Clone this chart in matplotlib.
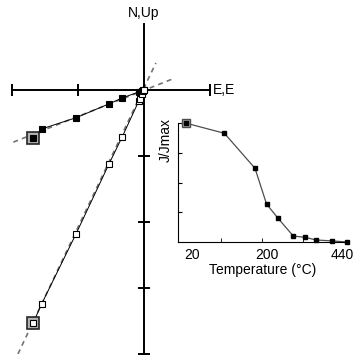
import matplotlib
matplotlib.use("Agg")
import matplotlib.pyplot as plt

plt.rcParams['font.family'] = ['Liberation Sans', 'DejaVu Sans']

# Zijderveld data: horizontal projection (E, N) - filled squares
east = [-1.68, -1.55, -1.03, -0.53, -0.33, -0.08, -0.06, -0.03, -0.01, 0.0]
north = [-0.73, -0.59, -0.42, -0.21, -0.12, -0.03, -0.025, -0.01, -0.005, 0.0]
# vertical projection (E, Up) - open squares
up = [-3.53, -3.24, -2.18, -1.12, -0.71, -0.17, -0.13, -0.06, -0.02, 0.0]

# fitted directions (dashed)
fit_h_x = [-1.98, 0.44]
fit_h_y = [-0.79, 0.17]
fit_v_x = [-1.91, 0.18]
fit_v_y = [-4.0, 0.41]

# demagnetisation curve
temps = [20, 120, 200, 230, 260, 300, 330, 360, 400, 440]
jjmax = [1.0, 0.915, 0.62, 0.32, 0.20, 0.05, 0.04, 0.017, 0.01, 0.0]
tick_labels = ['20', '200', '440']
tick_pos = [35, 231, 428]

fig = plt.figure(figsize=(3.57, 3.57), dpi=100)
ax = fig.add_axes([0.0336, 0.0084, 0.5546, 0.9244])
ax.set_xlim(-2, 1)
ax.set_ylim(-4, 1)
for s in ['top', 'right']:
    ax.spines[s].set_visible(False)
ax.spines['left'].set_position(('data', 0))
ax.spines['bottom'].set_position(('data', 0))
for s in ['left', 'bottom']:
    ax.spines[s].set_linewidth(1.4)
ax.set_xticks([-2, -1, 0, 1])
ax.set_yticks([-4, -3, -2, -1])
ax.set_xticklabels([])
ax.set_yticklabels([])
ax.tick_params(direction='inout', length=9, width=1.4)
ax.patch.set_visible(False)

ax.plot(fit_h_x, fit_h_y, color='0.45', lw=1.2, dashes=(3, 2.5), zorder=1)
ax.plot(fit_v_x, fit_v_y, color='0.45', lw=1.2, dashes=(3, 2.5), zorder=1)
ax.plot(east, north, '-', color='k', lw=0.7, zorder=2)
ax.plot(east, up, '-', color='k', lw=0.7, zorder=2)
ax.plot(east[0], north[0], 's', ms=8, mfc='0.7', mec='0.15', mew=1.2, zorder=3, clip_on=False)
ax.plot(east[0], up[0], 's', ms=8, mfc='0.7', mec='0.15', mew=1.2, zorder=3, clip_on=False)
ax.plot(east, north, 's', ms=4, mfc='k', mec='k', mew=0.8, zorder=4, clip_on=False)
ax.plot(east, up, 's', ms=4, mfc='white', mec='k', mew=0.8, zorder=4, clip_on=False)

ax.text(1.04, 0, 'E,E', ha='left', va='center', fontsize=10)
ax.text(0, 1.06, 'N,Up', ha='center', va='bottom', fontsize=10)

# inset
ins = fig.add_axes([0.4986, 0.322, 0.4734, 0.333])
ins.set_xlim(-1, 440)
ins.set_ylim(0, 1.0)
for s in ['top', 'right']:
    ins.spines[s].set_visible(False)
ins.plot(temps, jjmax, '-', color='0.3', lw=0.9, clip_on=False)
ins.plot(temps[0], jjmax[0], 's', ms=6, mfc='0.65', mec='0.3', mew=1.0, clip_on=False)
ins.plot(temps, jjmax, 's', ms=3.5, color='k', clip_on=False)
ins.set_yticks([0.25, 0.5, 0.75, 1.0])
ins.set_yticklabels([])
ins.set_xticks(tick_pos)
ins.set_xticklabels(tick_labels, fontsize=10)
ins.tick_params(axis='x', which='major', length=0, pad=4)
ins.set_xticks([111, 218, 325], minor=True)
ins.tick_params(axis='both', which='both', direction='in')
ins.tick_params(axis='x', which='minor', length=3)
ins.tick_params(axis='y', length=3)
ins.set_xlabel('Temperature (°C)', fontsize=10, labelpad=1)
ins.set_ylabel('J/Jmax', fontsize=10)
ins.yaxis.set_label_coords(-0.03, 0.86)
ins.patch.set_visible(False)

fig.savefig('out.png', dpi=100)
